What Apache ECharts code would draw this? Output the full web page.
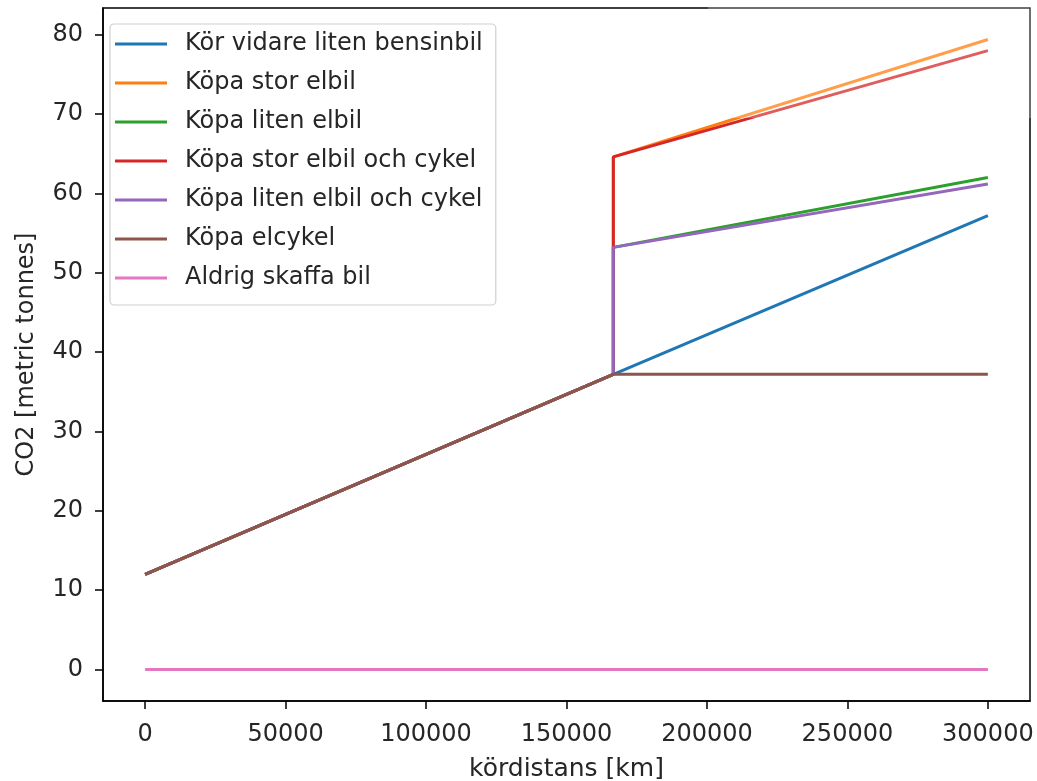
<!DOCTYPE html>
<html>
<head>
<meta charset="utf-8">
<script src="https://cdn.jsdelivr.net/npm/echarts@6/dist/echarts.min.js"></script>
<style>
html,body{margin:0;padding:0;background:#fff;}
#chart{width:1037px;height:781px;}
</style>
</head>
<body>
<div id="chart"></div>
<script>
// ---- data ----
const seriesNames = [
  'Kör vidare liten bensinbil',
  'Köpa stor elbil',
  'Köpa liten elbil',
  'Köpa stor elbil och cykel',
  'Köpa liten elbil och cykel',
  'Köpa elcykel',
  'Aldrig skaffa bil'
];
const colors = ['#1f77b4','#ff7f0e','#2ca02c','#d62728','#9467bd','#8c564b','#e377c2'];
// distance points [km]
const distBensin = [0, 166667, 300000];
const distSwitch = [0, 166667, 166667, 300000];
const distFlat = [0, 300000];
// CO2 values [metric tonnes]
const co2Bensin = [12.0, 37.2, 57.2];
const co2StorElbil = [12.0, 37.2, 64.6, 79.4];
const co2LitenElbil = [12.0, 37.2, 53.2, 62.0];
const co2StorElbilCykel = [12.0, 37.2, 64.6, 78.0];
const co2LitenElbilCykel = [12.0, 37.2, 53.2, 61.2];
const co2Elcykel = [12.0, 37.2, 37.2, 37.2];
const co2AldrigBil = [0, 0];
const xTicks = [0, 50000, 100000, 150000, 200000, 250000, 300000];
const yTicks = [0, 10, 20, 30, 40, 50, 60, 70, 80];

const seriesXs = [distBensin, distSwitch, distSwitch, distSwitch, distSwitch, distSwitch, distFlat];
const seriesYs = [co2Bensin, co2StorElbil, co2LitenElbil, co2StorElbilCykel, co2LitenElbilCykel, co2Elcykel, co2AldrigBil];

const font = 'DejaVu Sans';
const txt = '#262626';
const fs = 24;

const series = seriesNames.map((n, i) => ({
  name: n,
  type: 'line',
  data: seriesXs[i].map((x, j) => [x, seriesYs[i][j]]),
  showSymbol: false,
  symbol: 'none',
  lineStyle: {width: 3, color: colors[i]},
  itemStyle: {color: colors[i]},
  z: 2 + i,
  animation: false
}));

const chart = echarts.init(document.getElementById('chart'), null, {renderer: 'canvas'});
chart.setOption({
  animation: false,
  backgroundColor: '#fff',
  textStyle: {fontFamily: font},
  grid: {
    left: 103, right: 7, top: 8, bottom: 80,
    containLabel: false,
    outerBoundsMode: 'none',
    show: true, borderColor: '#000', borderWidth: 1.5, backgroundColor: 'transparent'
  },
  xAxis: {
    type: 'value',
    min: -15000, max: 315000,
    splitLine: {show: false},
    axisLine: {show: true, onZero: false, lineStyle: {color: '#000', width: 1.5}},
    axisTick: {show: true, length: 8, customValues: xTicks, lineStyle: {color: '#000', width: 1.5}},
    axisLabel: {customValues: xTicks, margin: 22, fontSize: fs, color: txt, fontFamily: font,
      formatter: v => String(v)},
    name: 'kördistans [km]',
    nameLocation: 'middle',
    nameGap: 56,
    nameTextStyle: {fontSize: 25, color: txt, fontFamily: font}
  },
  yAxis: {
    type: 'value',
    min: -3.97, max: 83.37,
    splitLine: {show: false},
    axisLine: {show: true, onZero: false, lineStyle: {color: '#000', width: 1.5}},
    axisTick: {show: true, length: 8, customValues: yTicks, lineStyle: {color: '#000', width: 1.5}},
    axisLabel: {customValues: yTicks, margin: 20, fontSize: fs, color: txt, fontFamily: font,
      formatter: v => String(v)},
    name: 'CO2 [metric tonnes]',
    nameLocation: 'middle',
    nameGap: 64,
    nameRotate: 90,
    nameTextStyle: {fontSize: fs, color: txt, fontFamily: font}
  },
  legend: {
    data: seriesNames,
    orient: 'vertical',
    left: 110, top: 24,
    padding: [7, 13, 14, 5],
    itemGap: 13,
    itemWidth: 52, itemHeight: 3,
    icon: 'rect',
    backgroundColor: 'rgba(255,255,255,0.8)',
    borderColor: '#d0d0d0', borderWidth: 1.2, borderRadius: 4,
    textStyle: {fontSize: fs, color: txt, fontFamily: font, lineHeight: 26, padding: [0, 0, 0, 13]},
    selectedMode: false
  },
  series: series,
  graphic: [{
    type: 'rect', left: 708, top: 0, z: 100,
    shape: {width: 329, height: 118},
    style: {fill: 'rgba(255,255,255,0.25)'},
    silent: true
  }]
});
</script>
</body>
</html>
